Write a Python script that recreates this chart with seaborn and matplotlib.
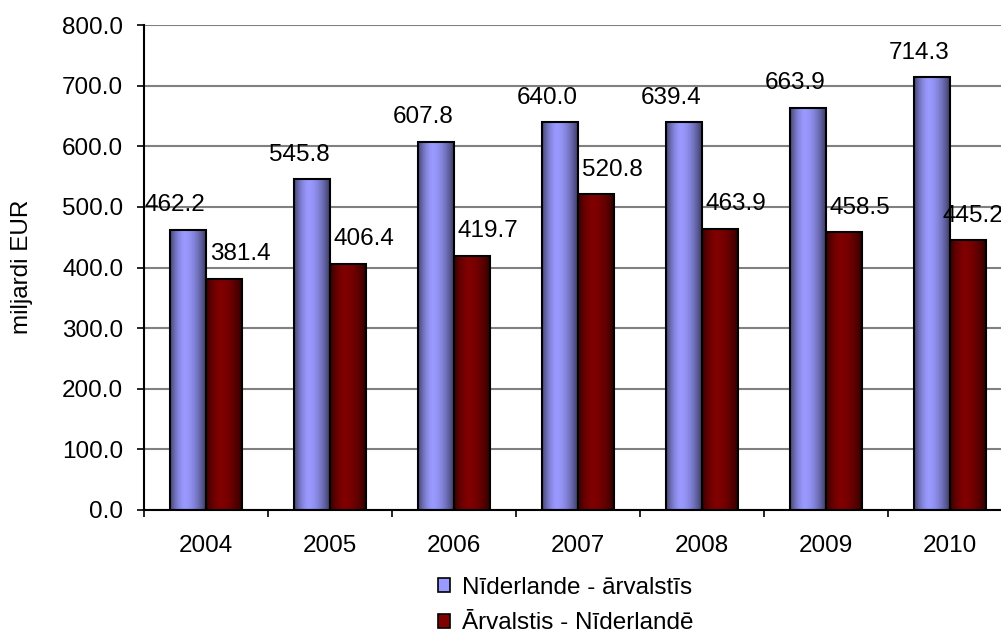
import numpy as np
import pandas as pd
import matplotlib
matplotlib.use("Agg")
import matplotlib.pyplot as plt
import seaborn as sns
from matplotlib.patches import Patch

years = ["2004", "2005", "2006", "2007", "2008", "2009", "2010"]
nl_abroad = [462.2, 545.8, 607.8, 640.0, 639.4, 663.9, 714.3]
abroad_nl = [381.4, 406.4, 419.7, 520.8, 463.9, 458.5, 445.2]
series = ["Nīderlande - ārvalstīs", "Ārvalstis - Nīderlandē"]
colors = ["#9999FF", "#800000"]

df = pd.DataFrame({
    "year": years * 2,
    "value": nl_abroad + abroad_nl,
    "series": [series[0]] * len(years) + [series[1]] * len(years),
})

sns.set_style("white")
plt.rcParams["font.family"] = ["Liberation Sans", "DejaVu Sans"]
plt.rcParams["text.color"] = "black"
plt.rcParams["xtick.color"] = "black"
plt.rcParams["ytick.color"] = "black"

FS = 17.5

fig = plt.figure(figsize=(10.01, 6.33), dpi=100)
ax = fig.add_axes([144 / 1001, 1 - 510 / 633, 868 / 1001, 485 / 633])

sns.barplot(data=df, x="year", y="value", hue="series", palette=colors,
            width=0.58, ax=ax, edgecolor="black", linewidth=1.5,
            saturation=1, legend=False, zorder=3)

# cylinder-like shading on each bar
t = np.linspace(0, 1, 64)
prof = np.where(t < 0.4, 1 - 0.55 * ((0.4 - t) / 0.4) ** 1.6,
                1 - 0.6 * ((t - 0.4) / 0.6) ** 1.8)
for p in ax.patches:
    h = p.get_height()
    if h <= 0:
        continue
    x0, w = p.get_x(), p.get_width()
    base = np.array(p.get_facecolor()[:3])
    img = (prof[None, :, None] * base[None, None, :])
    ax.imshow(img, extent=[x0, x0 + w, 0, h], aspect="auto",
              interpolation="bilinear", zorder=3.5)
    p.set_facecolor("none")
    p.set_zorder(4)

ax.set_xlim(-0.5, len(years) - 0.5)
ax.set_ylim(0, 800)

# value labels
nb = len(years)
labels = []
for i, p in enumerate(ax.patches[:2 * nb]):
    h = p.get_height()
    dx = -9.5 if i < nb else 11.5
    a = ax.annotate(f"{h:.1f}", (p.get_x() + p.get_width() / 2, h),
                    xytext=(dx, 17.5), textcoords="offset points",
                    ha="center", va="center", fontsize=FS, zorder=6)
    labels.append((a, dx))

# keep labels inside the figure like the original does
fig.canvas.draw()
r = fig.canvas.get_renderer()
fig_w = fig.bbox.width
for a, dx in labels:
    bb = a.get_window_extent(r)
    if bb.x1 > fig_w + 2:
        shift = (bb.x1 - fig_w - 2) * 72 / fig.dpi
        a.set_position((dx - shift, 17.5))

ax.set_yticks(np.arange(0, 801, 100))
ax.set_yticklabels([f"{v:.1f}" for v in np.arange(0, 801, 100)])
ax.yaxis.grid(True, color="#808080", linewidth=1.5, zorder=0)
ax.set_axisbelow(True)

ax.set_xticks(range(len(years)))
ax.set_xticks(np.arange(-0.5, len(years), 1), minor=True)
ax.tick_params(axis="x", which="major", length=0, pad=18, labelsize=FS)
ax.tick_params(axis="x", which="minor", length=5, width=1.2, color="black",
               direction="out", bottom=True)
ax.tick_params(axis="y", length=5, width=1.2, color="black", direction="out",
               left=True, pad=10, labelsize=FS)
ax.set_xlabel("")
ax.set_ylabel("")

for s in ["top", "right"]:
    ax.spines[s].set_visible(False)
for s in ["left", "bottom"]:
    ax.spines[s].set_color("black")
    ax.spines[s].set_linewidth(1.5)
    ax.spines[s].set_zorder(5)

fig.text(22 / 1001, 1 - 267 / 633, "miljardi EUR", rotation=90,
         ha="center", va="center", fontsize=FS)

handles = [Patch(facecolor=c, edgecolor="black", linewidth=1.2) for c in colors]
fig.legend(handles, series, loc="upper left",
           bbox_to_anchor=(438 / 1001, 1 - 577 / 633), frameon=False,
           fontsize=FS, handlelength=0.5, handleheight=0.5,
           handletextpad=0.5, labelspacing=0.55, borderpad=0,
           borderaxespad=0)

fig.savefig("out.png", dpi=100)
